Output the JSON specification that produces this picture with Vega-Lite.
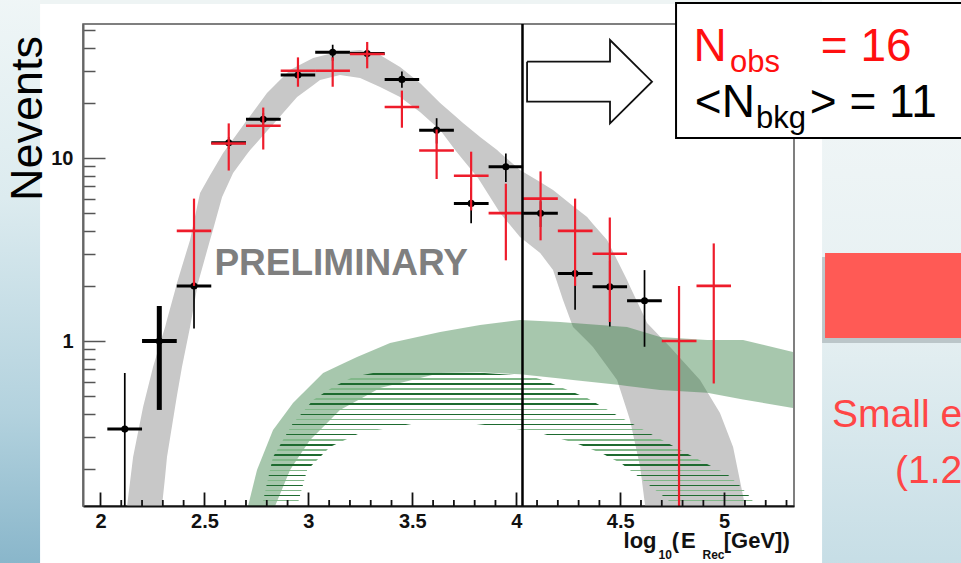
{
  "$schema": "https://vega.github.io/schema/vega-lite/v6.json",
  "width": 711,
  "height": 482,
  "autosize": {"type": "none"},
  "padding": {"left": 83, "top": 24, "right": 167, "bottom": 57},
  "background": "white",
  "config": {
    "view": {"stroke": "#555555", "strokeWidth": 1.5},
    "font": "Liberation Sans",
    "axis": {"labelOverlap": false}
  },
  "datasets": {
    "band": [
      {"x": 2.128, "hi": 0.1254, "lo": 0.05},
      {"x": 2.157, "hi": 0.2323, "lo": 0.05},
      {"x": 2.205, "hi": 0.4358, "lo": 0.05},
      {"x": 2.253, "hi": 0.721, "lo": 0.05},
      {"x": 2.296, "hi": 1.052, "lo": 0.1254},
      {"x": 2.311, "hi": 1.193, "lo": 0.1816},
      {"x": 2.32, "hi": 1.307, "lo": 0.2323},
      {"x": 2.359, "hi": 1.892, "lo": 0.4358},
      {"x": 2.368, "hi": 2.075, "lo": 0.503},
      {"x": 2.392, "hi": 2.554, "lo": 0.721},
      {"x": 2.431, "hi": 3.564, "lo": 1.193},
      {"x": 2.469, "hi": 5.72, "lo": 2.075},
      {"x": 2.479, "hi": 6.438, "lo": 2.272},
      {"x": 2.527, "hi": 8.045, "lo": 3.564},
      {"x": 2.542, "hi": 8.599, "lo": 4.08},
      {"x": 2.585, "hi": 10.43, "lo": 6.122},
      {"x": 2.59, "hi": 10.65, "lo": 6.294},
      {"x": 2.638, "hi": 12.66, "lo": 8.279},
      {"x": 2.705, "hi": 16.13, "lo": 10.51},
      {"x": 2.72, "hi": 16.97, "lo": 11.06},
      {"x": 2.801, "hi": 22.66, "lo": 14.03},
      {"x": 2.849, "hi": 25.7, "lo": 16.13},
      {"x": 2.912, "hi": 30.27, "lo": 19.47},
      {"x": 2.946, "hi": 31.69, "lo": 21.54},
      {"x": 3.023, "hi": 35.19, "lo": 25.0},
      {"x": 3.056, "hi": 35.97, "lo": 26.69},
      {"x": 3.138, "hi": 37.95, "lo": 28.15},
      {"x": 3.152, "hi": 38.07, "lo": 28.41},
      {"x": 3.249, "hi": 38.92, "lo": 27.36},
      {"x": 3.345, "hi": 36.55, "lo": 24.43},
      {"x": 3.441, "hi": 31.43, "lo": 21.54},
      {"x": 3.537, "hi": 25.7, "lo": 17.84},
      {"x": 3.634, "hi": 19.97, "lo": 14.22},
      {"x": 3.706, "hi": 16.96, "lo": 11.06},
      {"x": 3.744, "hi": 15.54, "lo": 9.789},
      {"x": 3.816, "hi": 13.3, "lo": 7.777},
      {"x": 3.826, "hi": 13.03, "lo": 7.469},
      {"x": 3.908, "hi": 11.06, "lo": 5.318},
      {"x": 3.922, "hi": 10.7, "lo": 5.007},
      {"x": 4.018, "hi": 8.599, "lo": 3.701},
      {"x": 4.115, "hi": 7.384, "lo": 3.027},
      {"x": 4.177, "hi": 6.687, "lo": 2.443},
      {"x": 4.225, "hi": 6.053, "lo": 1.675},
      {"x": 4.273, "hi": 5.473, "lo": 1.193},
      {"x": 4.341, "hi": 4.76, "lo": 1.0},
      {"x": 4.369, "hi": 4.364, "lo": 0.9273},
      {"x": 4.437, "hi": 3.564, "lo": 0.7278},
      {"x": 4.485, "hi": 2.771, "lo": 0.6121},
      {"x": 4.533, "hi": 2.154, "lo": 0.4155},
      {"x": 4.547, "hi": 1.987, "lo": 0.37},
      {"x": 4.596, "hi": 1.515, "lo": 0.2049},
      {"x": 4.62, "hi": 1.324, "lo": 0.1254},
      {"x": 4.629, "hi": 1.254, "lo": 0.05},
      {"x": 4.74, "hi": 0.9273, "lo": 0.05},
      {"x": 4.884, "hi": 0.6121, "lo": 0.05},
      {"x": 4.98, "hi": 0.4042, "lo": 0.05},
      {"x": 5.043, "hi": 0.2635, "lo": 0.05},
      {"x": 5.101, "hi": 0.1254, "lo": 0.05}
    ],
    "dots": [
      {"x": 2.71, "hi": 0.1254, "lo": 0.1254},
      {"x": 2.753, "hi": 0.1973, "lo": 0.1254},
      {"x": 2.83, "hi": 0.3264, "lo": 0.1254},
      {"x": 2.84, "hi": 0.3376, "lo": 0.1254},
      {"x": 2.912, "hi": 0.4356, "lo": 0.1973},
      {"x": 2.926, "hi": 0.4584, "lo": 0.2088},
      {"x": 3.008, "hi": 0.5676, "lo": 0.2877},
      {"x": 3.071, "hi": 0.6686, "lo": 0.3389},
      {"x": 3.152, "hi": 0.7394, "lo": 0.4198},
      {"x": 3.234, "hi": 0.8177, "lo": 0.4721},
      {"x": 3.345, "hi": 0.925, "lo": 0.5535},
      {"x": 3.393, "hi": 0.9752, "lo": 0.5713},
      {"x": 3.634, "hi": 1.12, "lo": 0.6686},
      {"x": 3.826, "hi": 1.223, "lo": 0.6745},
      {"x": 4.018, "hi": 1.302, "lo": 0.6585},
      {"x": 4.211, "hi": 1.27, "lo": 0.623},
      {"x": 4.273, "hi": 1.254, "lo": 0.6121},
      {"x": 4.499, "hi": 1.2, "lo": 0.575},
      {"x": 4.533, "hi": 1.193, "lo": 0.5684},
      {"x": 4.692, "hi": 1.052, "lo": 0.5399},
      {"x": 4.918, "hi": 1.013, "lo": 0.5212},
      {"x": 5.091, "hi": 1.013, "lo": 0.4784},
      {"x": 5.331, "hi": 0.8707, "lo": 0.4304}
    ],
    "hatch": [
      {"x": 2.777, "hi": 0.1254, "lo": 0.1254},
      {"x": 2.801, "hi": 0.1675, "lo": 0.1254},
      {"x": 2.83, "hi": 0.2323, "lo": 0.1254},
      {"x": 2.926, "hi": 0.3564, "lo": 0.1254},
      {"x": 2.946, "hi": 0.3776, "lo": 0.1254},
      {"x": 2.994, "hi": 0.4364, "lo": 0.1973},
      {"x": 3.023, "hi": 0.4762, "lo": 0.2128},
      {"x": 3.104, "hi": 0.5467, "lo": 0.2635},
      {"x": 3.119, "hi": 0.5606, "lo": 0.2682},
      {"x": 3.215, "hi": 0.6357, "lo": 0.3014},
      {"x": 3.249, "hi": 0.647, "lo": 0.3143},
      {"x": 3.311, "hi": 0.6686, "lo": 0.3235},
      {"x": 3.523, "hi": 0.6762, "lo": 0.3564},
      {"x": 3.537, "hi": 0.677, "lo": 0.3569},
      {"x": 3.73, "hi": 0.677, "lo": 0.3609},
      {"x": 3.778, "hi": 0.677, "lo": 0.3556},
      {"x": 3.97, "hi": 0.6545, "lo": 0.3346},
      {"x": 4.066, "hi": 0.6438, "lo": 0.321},
      {"x": 4.115, "hi": 0.6177, "lo": 0.3143},
      {"x": 4.153, "hi": 0.597, "lo": 0.3052},
      {"x": 4.283, "hi": 0.5198, "lo": 0.2767},
      {"x": 4.297, "hi": 0.5117, "lo": 0.2736},
      {"x": 4.341, "hi": 0.4882, "lo": 0.2615},
      {"x": 4.418, "hi": 0.4347, "lo": 0.2413},
      {"x": 4.499, "hi": 0.3844, "lo": 0.2158},
      {"x": 4.509, "hi": 0.3791, "lo": 0.2128},
      {"x": 4.596, "hi": 0.3346, "lo": 0.1784},
      {"x": 4.692, "hi": 0.2914, "lo": 0.1465},
      {"x": 4.706, "hi": 0.2855, "lo": 0.1422},
      {"x": 4.764, "hi": 0.2635, "lo": 0.1254},
      {"x": 4.826, "hi": 0.2413, "lo": 0.1254},
      {"x": 4.918, "hi": 0.2128, "lo": 0.1254},
      {"x": 5.014, "hi": 0.1876, "lo": 0.1254},
      {"x": 5.077, "hi": 0.1613, "lo": 0.1254},
      {"x": 5.125, "hi": 0.1405, "lo": 0.1254},
      {"x": 5.153, "hi": 0.1254, "lo": 0.1254}
    ],
    "black": [
      {"bin": 1, "x": 2.117, "xlo": 2.033, "xhi": 2.2, "y": 0.33, "ylo": 0.001, "yhi": 0.668},
      {"bin": 2, "x": 2.283, "xlo": 2.2, "xhi": 2.367, "y": 1.0, "ylo": 0.42, "yhi": 1.553},
      {"bin": 3, "x": 2.45, "xlo": 2.367, "xhi": 2.533, "y": 2.0, "ylo": 1.17, "yhi": 2.83},
      {"bin": 4, "x": 2.617, "xlo": 2.533, "xhi": 2.7, "y": 12.1, "ylo": 11.2, "yhi": 13.0},
      {"bin": 5, "x": 2.783, "xlo": 2.7, "xhi": 2.867, "y": 16.3, "ylo": 15.0, "yhi": 17.6},
      {"bin": 6, "x": 2.95, "xlo": 2.867, "xhi": 3.033, "y": 28.4, "ylo": 26.8, "yhi": 30.1},
      {"bin": 7, "x": 3.117, "xlo": 3.033, "xhi": 3.2, "y": 37.8, "ylo": 34.0, "yhi": 41.6},
      {"bin": 8, "x": 3.283, "xlo": 3.2, "xhi": 3.367, "y": 37.2, "ylo": 34.7, "yhi": 39.7},
      {"bin": 9, "x": 3.45, "xlo": 3.367, "xhi": 3.533, "y": 26.9, "ylo": 24.2, "yhi": 29.7},
      {"bin": 10, "x": 3.617, "xlo": 3.533, "xhi": 3.7, "y": 14.2, "ylo": 12.0, "yhi": 16.5},
      {"bin": 11, "x": 3.783, "xlo": 3.7, "xhi": 3.867, "y": 5.65, "ylo": 4.4, "yhi": 6.9},
      {"bin": 12, "x": 3.95, "xlo": 3.867, "xhi": 4.033, "y": 8.96, "ylo": 7.4, "yhi": 10.6},
      {"bin": 13, "x": 4.117, "xlo": 4.033, "xhi": 4.2, "y": 4.99, "ylo": 4.2, "yhi": 5.8},
      {"bin": 14, "x": 4.283, "xlo": 4.2, "xhi": 4.367, "y": 2.34, "ylo": 1.48, "yhi": 3.2},
      {"bin": 15, "x": 4.45, "xlo": 4.367, "xhi": 4.533, "y": 1.98, "ylo": 1.2, "yhi": 2.76},
      {"bin": 16, "x": 4.617, "xlo": 4.533, "xhi": 4.7, "y": 1.66, "ylo": 0.93, "yhi": 2.44}
    ],
    "red": [
      {"bin": 3, "x": 2.45, "xlo": 2.367, "xhi": 2.533, "n": 4, "lo": 2.0, "hi": 6.0},
      {"bin": 4, "x": 2.617, "xlo": 2.533, "xhi": 2.7, "n": 12, "lo": 8.54, "hi": 15.46},
      {"bin": 5, "x": 2.783, "xlo": 2.7, "xhi": 2.867, "n": 15, "lo": 11.13, "hi": 18.87},
      {"bin": 6, "x": 2.95, "xlo": 2.867, "xhi": 3.033, "n": 30, "lo": 24.52, "hi": 35.48},
      {"bin": 7, "x": 3.117, "xlo": 3.033, "xhi": 3.2, "n": 30, "lo": 24.52, "hi": 35.48},
      {"bin": 8, "x": 3.283, "xlo": 3.2, "xhi": 3.367, "n": 37, "lo": 30.92, "hi": 43.08},
      {"bin": 9, "x": 3.45, "xlo": 3.367, "xhi": 3.533, "n": 19, "lo": 14.64, "hi": 23.36},
      {"bin": 10, "x": 3.617, "xlo": 3.533, "xhi": 3.7, "n": 11, "lo": 7.68, "hi": 14.32},
      {"bin": 11, "x": 3.783, "xlo": 3.7, "xhi": 3.867, "n": 8, "lo": 5.17, "hi": 10.83},
      {"bin": 12, "x": 3.95, "xlo": 3.867, "xhi": 4.033, "n": 5, "lo": 2.76, "hi": 7.24},
      {"bin": 13, "x": 4.117, "xlo": 4.033, "xhi": 4.2, "n": 6, "lo": 3.55, "hi": 8.45},
      {"bin": 14, "x": 4.283, "xlo": 4.2, "xhi": 4.367, "n": 4, "lo": 2.0, "hi": 6.0},
      {"bin": 15, "x": 4.45, "xlo": 4.367, "xhi": 4.533, "n": 3, "lo": 1.27, "hi": 4.73},
      {"bin": 17, "x": 4.783, "xlo": 4.7, "xhi": 4.867, "n": 1, "lo": 0.001, "hi": 2.0},
      {"bin": 18, "x": 4.95, "xlo": 4.867, "xhi": 5.033, "n": 2, "lo": 0.586, "hi": 3.414}
    ],
    "arrow": [
      {"i": 0, "x": 4.052, "y": 33.6},
      {"i": 1, "x": 4.451, "y": 33.6},
      {"i": 2, "x": 4.451, "y": 44.15},
      {"i": 3, "x": 4.653, "y": 26.12},
      {"i": 4, "x": 4.451, "y": 15.47},
      {"i": 5, "x": 4.451, "y": 20.31},
      {"i": 6, "x": 4.052, "y": 20.31},
      {"i": 7, "x": 4.052, "y": 33.6}
    ],
    "minorTicks": [
      {"v": 2.1}, {"v": 2.2}, {"v": 2.3}, {"v": 2.4}, {"v": 2.6}, {"v": 2.7}, {"v": 2.8}, {"v": 2.9},
      {"v": 3.1}, {"v": 3.2}, {"v": 3.3}, {"v": 3.4}, {"v": 3.6}, {"v": 3.7}, {"v": 3.8}, {"v": 3.9},
      {"v": 4.1}, {"v": 4.2}, {"v": 4.3}, {"v": 4.4}, {"v": 4.6}, {"v": 4.7}, {"v": 4.8}, {"v": 4.9},
      {"v": 5.1}, {"v": 5.2}, {"v": 5.3}
    ]
  },
  "layer": [
    {
      "data": {"name": "band"},
      "mark": {"type": "area", "color": "#c8c8c8", "clip": true},
      "encoding": {
        "x": {
          "field": "x", "type": "quantitative", "title": null,
          "scale": {"domain": [1.916, 5.336], "nice": false, "zero": false},
          "axis": {
            "values": [2, 2.5, 3, 3.5, 4, 4.5, 5],
            "format": "~g",
            "tickSize": -14,
            "tickColor": "#111111", "tickWidth": 1.8,
            "domainColor": "#111111", "domainWidth": 2,
            "labelFont": "Liberation Sans", "labelFontWeight": "bold", "labelFontSize": 20, "labelColor": "#111111",
            "labelPadding": 35, "labelBaseline": "alphabetic",
            "labelFlush": false, "labelOverlap": false, "labelBound": false,
            "grid": false, "zindex": 1
          }
        },
        "y": {
          "field": "hi", "type": "quantitative", "title": "Nevents",
          "scale": {"type": "log", "domain": [0.1254, 54], "nice": false},
          "axis": {
            "values": [0.2, 0.3, 0.4, 0.5, 0.6, 0.7, 0.8, 0.9, 1, 2, 3, 4, 5, 6, 7, 8, 9, 10, 20, 30, 40, 50],
            "tickSize": {"condition": {"test": "datum.value == 1 || datum.value == 10", "value": -22}, "value": -12},
            "tickColor": "#555555", "tickWidth": 1.5,
            "domainColor": "#666666", "domainWidth": 2,
            "labelExpr": "datum.value == 1 ? '1' : datum.value == 10 ? '10' : ''",
            "labelFont": "Liberation Sans", "labelFontWeight": "bold", "labelFontSize": 20, "labelColor": "#111111",
            "labelPadding": 32, "labelOverlap": false, "labelBound": false,
            "grid": false, "zindex": 1,
            "titleFont": "Liberation Sans", "titleFontSize": 45, "titleFontWeight": "normal", "titleColor": "#000000",
            "titleAngle": -90, "titleX": -42, "titleY": 94, "titleAlign": "center", "titleBaseline": "alphabetic"
          }
        },
        "y2": {"field": "lo"}
      }
    },
    {
      "data": {"values": [{}]},
      "mark": {"type": "rect", "clip": false, "fill": {"gradient": "linear", "x1": 0, "y1": 0, "x2": 0, "y2": 1, "stops": [
        {"offset": 0, "color": "#f1f7f7"}, {"offset": 0.35, "color": "#dcebef"}, {"offset": 0.7, "color": "#b3d2de"}, {"offset": 1, "color": "#80b0c6"}]}},
      "encoding": {"x": {"datum": 1.35}, "x2": {"datum": 1.7095}, "y": {"datum": 0.04}, "y2": {"datum": 90}}
    },
    {
      "data": {"values": [{}]},
      "mark": {"type": "rect", "clip": false, "fill": {"gradient": "linear", "x1": 0, "y1": 0, "x2": 0, "y2": 1, "stops": [
        {"offset": 0, "color": "#f6f9f9"}, {"offset": 0.55, "color": "#e6f0f2"}, {"offset": 1, "color": "#c2dbe4"}]}},
      "encoding": {"x": {"datum": 5.471}, "x2": {"datum": 6.4}, "y": {"datum": 0.04}, "y2": {"datum": 90}}
    },
    {
      "data": {"values": [{}]},
      "mark": {"type": "rect", "clip": false, "fill": "#eef4f4"},
      "encoding": {"x": {"datum": 1.7095}, "x2": {"datum": 5.471}, "y": {"datum": 69.4}, "y2": {"datum": 90}}
    },
    {
      "data": {"name": "dots"},
      "mark": {"type": "area", "color": "#2e7a3b", "fillOpacity": 0.42, "clip": true},
      "encoding": {"x": {"field": "x", "type": "quantitative"}, "y": {"field": "hi", "type": "quantitative"}, "y2": {"field": "lo"}}
    },
    {
      "data": {"name": "hatch"},
      "mark": {"type": "area", "clip": true, "fill": {"gradient": "linear", "x1": 0, "y1": 0, "x2": 0, "y2": 1, "stops": [
        {"offset": 0, "color": "rgba(255,255,255,0)"},
        {"offset": 0.0075, "color": "rgba(255,255,255,0)"}, {"offset": 0.0075, "color": "#1e6b30"}, {"offset": 0.0187, "color": "#1e6b30"}, {"offset": 0.0187, "color": "rgba(255,255,255,0)"},
        {"offset": 0.0454, "color": "rgba(255,255,255,0)"}, {"offset": 0.0454, "color": "#82b88a"}, {"offset": 0.0566, "color": "#82b88a"}, {"offset": 0.0566, "color": "rgba(255,255,255,0)"},
        {"offset": 0.0833, "color": "rgba(255,255,255,0)"}, {"offset": 0.0833, "color": "#1e6b30"}, {"offset": 0.0945, "color": "#1e6b30"}, {"offset": 0.0945, "color": "rgba(255,255,255,0)"},
        {"offset": 0.1212, "color": "rgba(255,255,255,0)"}, {"offset": 0.1212, "color": "#82b88a"}, {"offset": 0.1324, "color": "#82b88a"}, {"offset": 0.1324, "color": "rgba(255,255,255,0)"},
        {"offset": 0.1591, "color": "rgba(255,255,255,0)"}, {"offset": 0.1591, "color": "#1e6b30"}, {"offset": 0.1703, "color": "#1e6b30"}, {"offset": 0.1703, "color": "rgba(255,255,255,0)"},
        {"offset": 0.197, "color": "rgba(255,255,255,0)"}, {"offset": 0.197, "color": "#82b88a"}, {"offset": 0.2082, "color": "#82b88a"}, {"offset": 0.2082, "color": "rgba(255,255,255,0)"},
        {"offset": 0.2349, "color": "rgba(255,255,255,0)"}, {"offset": 0.2349, "color": "#1e6b30"}, {"offset": 0.2461, "color": "#1e6b30"}, {"offset": 0.2461, "color": "rgba(255,255,255,0)"},
        {"offset": 0.2728, "color": "rgba(255,255,255,0)"}, {"offset": 0.2728, "color": "#82b88a"}, {"offset": 0.284, "color": "#82b88a"}, {"offset": 0.284, "color": "rgba(255,255,255,0)"},
        {"offset": 0.3107, "color": "rgba(255,255,255,0)"}, {"offset": 0.3107, "color": "#1e6b30"}, {"offset": 0.3219, "color": "#1e6b30"}, {"offset": 0.3219, "color": "rgba(255,255,255,0)"},
        {"offset": 0.3487, "color": "rgba(255,255,255,0)"}, {"offset": 0.3487, "color": "#82b88a"}, {"offset": 0.3599, "color": "#82b88a"}, {"offset": 0.3599, "color": "rgba(255,255,255,0)"},
        {"offset": 0.3866, "color": "rgba(255,255,255,0)"}, {"offset": 0.3866, "color": "#1e6b30"}, {"offset": 0.3978, "color": "#1e6b30"}, {"offset": 0.3978, "color": "rgba(255,255,255,0)"},
        {"offset": 0.4245, "color": "rgba(255,255,255,0)"}, {"offset": 0.4245, "color": "#82b88a"}, {"offset": 0.4357, "color": "#82b88a"}, {"offset": 0.4357, "color": "rgba(255,255,255,0)"},
        {"offset": 0.4624, "color": "rgba(255,255,255,0)"}, {"offset": 0.4624, "color": "#1e6b30"}, {"offset": 0.4736, "color": "#1e6b30"}, {"offset": 0.4736, "color": "rgba(255,255,255,0)"},
        {"offset": 0.5003, "color": "rgba(255,255,255,0)"}, {"offset": 0.5003, "color": "#82b88a"}, {"offset": 0.5115, "color": "#82b88a"}, {"offset": 0.5115, "color": "rgba(255,255,255,0)"},
        {"offset": 0.5382, "color": "rgba(255,255,255,0)"}, {"offset": 0.5382, "color": "#1e6b30"}, {"offset": 0.5494, "color": "#1e6b30"}, {"offset": 0.5494, "color": "rgba(255,255,255,0)"},
        {"offset": 0.5761, "color": "rgba(255,255,255,0)"}, {"offset": 0.5761, "color": "#82b88a"}, {"offset": 0.5873, "color": "#82b88a"}, {"offset": 0.5873, "color": "rgba(255,255,255,0)"},
        {"offset": 0.614, "color": "rgba(255,255,255,0)"}, {"offset": 0.614, "color": "#1e6b30"}, {"offset": 0.6252, "color": "#1e6b30"}, {"offset": 0.6252, "color": "rgba(255,255,255,0)"},
        {"offset": 0.6519, "color": "rgba(255,255,255,0)"}, {"offset": 0.6519, "color": "#82b88a"}, {"offset": 0.6631, "color": "#82b88a"}, {"offset": 0.6631, "color": "rgba(255,255,255,0)"},
        {"offset": 0.6899, "color": "rgba(255,255,255,0)"}, {"offset": 0.6899, "color": "#1e6b30"}, {"offset": 0.7011, "color": "#1e6b30"}, {"offset": 0.7011, "color": "rgba(255,255,255,0)"},
        {"offset": 0.7278, "color": "rgba(255,255,255,0)"}, {"offset": 0.7278, "color": "#82b88a"}, {"offset": 0.739, "color": "#82b88a"}, {"offset": 0.739, "color": "rgba(255,255,255,0)"},
        {"offset": 0.7657, "color": "rgba(255,255,255,0)"}, {"offset": 0.7657, "color": "#1e6b30"}, {"offset": 0.7769, "color": "#1e6b30"}, {"offset": 0.7769, "color": "rgba(255,255,255,0)"},
        {"offset": 0.8036, "color": "rgba(255,255,255,0)"}, {"offset": 0.8036, "color": "#82b88a"}, {"offset": 0.8148, "color": "#82b88a"}, {"offset": 0.8148, "color": "rgba(255,255,255,0)"},
        {"offset": 0.8415, "color": "rgba(255,255,255,0)"}, {"offset": 0.8415, "color": "#1e6b30"}, {"offset": 0.8527, "color": "#1e6b30"}, {"offset": 0.8527, "color": "rgba(255,255,255,0)"},
        {"offset": 0.8794, "color": "rgba(255,255,255,0)"}, {"offset": 0.8794, "color": "#82b88a"}, {"offset": 0.8906, "color": "#82b88a"}, {"offset": 0.8906, "color": "rgba(255,255,255,0)"},
        {"offset": 0.9173, "color": "rgba(255,255,255,0)"}, {"offset": 0.9173, "color": "#1e6b30"}, {"offset": 0.9285, "color": "#1e6b30"}, {"offset": 0.9285, "color": "rgba(255,255,255,0)"},
        {"offset": 0.9552, "color": "rgba(255,255,255,0)"}, {"offset": 0.9552, "color": "#82b88a"}, {"offset": 0.9664, "color": "#82b88a"}, {"offset": 0.9664, "color": "rgba(255,255,255,0)"},
        {"offset": 1, "color": "rgba(255,255,255,0)"}]}},
      "encoding": {"x": {"field": "x", "type": "quantitative"}, "y": {"field": "hi", "type": "quantitative"}, "y2": {"field": "lo"}}
    },
    {
      "data": {"name": "black"},
      "transform": [{"filter": "datum.bin != 2"}],
      "mark": {"type": "rule", "color": "#000000", "strokeWidth": 1.7, "clip": true},
      "encoding": {"x": {"field": "x", "type": "quantitative"}, "y": {"field": "ylo", "type": "quantitative"}, "y2": {"field": "yhi"}}
    },
    {
      "data": {"name": "black"},
      "transform": [{"filter": "datum.bin != 2"}],
      "mark": {"type": "rule", "color": "#000000", "strokeWidth": 3, "clip": true},
      "encoding": {"x": {"field": "xlo", "type": "quantitative"}, "x2": {"field": "xhi"}, "y": {"field": "y", "type": "quantitative"}}
    },
    {
      "data": {"name": "black"},
      "transform": [{"filter": "datum.bin == 2"}],
      "mark": {"type": "rule", "color": "#000000", "strokeWidth": 5, "clip": true},
      "encoding": {"x": {"field": "x", "type": "quantitative"}, "y": {"field": "ylo", "type": "quantitative"}, "y2": {"field": "yhi"}}
    },
    {
      "data": {"name": "black"},
      "transform": [{"filter": "datum.bin == 2"}],
      "mark": {"type": "rule", "color": "#000000", "strokeWidth": 4, "clip": true},
      "encoding": {"x": {"field": "xlo", "type": "quantitative"}, "x2": {"field": "xhi"}, "y": {"field": "y", "type": "quantitative"}}
    },
    {
      "data": {"name": "black"},
      "mark": {"type": "point", "shape": "circle", "filled": true, "color": "#000000", "size": 50, "opacity": 1, "clip": true},
      "encoding": {"x": {"field": "x", "type": "quantitative"}, "y": {"field": "y", "type": "quantitative"}}
    },
    {
      "data": {"name": "red"},
      "mark": {"type": "rule", "color": "#ee1c2b", "strokeWidth": 2.2, "clip": true},
      "encoding": {"x": {"field": "x", "type": "quantitative"}, "y": {"field": "lo", "type": "quantitative"}, "y2": {"field": "hi"}}
    },
    {
      "data": {"name": "red"},
      "mark": {"type": "rule", "color": "#ee1c2b", "strokeWidth": 2.6, "clip": true},
      "encoding": {"x": {"field": "xlo", "type": "quantitative"}, "x2": {"field": "xhi"}, "y": {"field": "n", "type": "quantitative"}}
    },
    {
      "data": {"values": [{"cut": 4.03}]},
      "mark": {"type": "rule", "color": "#000000", "strokeWidth": 2.5},
      "encoding": {"x": {"field": "cut", "type": "quantitative"}}
    },
    {
      "data": {"name": "minorTicks"},
      "mark": {"type": "rule", "color": "#111111", "strokeWidth": 1.8},
      "encoding": {"x": {"field": "v", "type": "quantitative"}, "y": {"datum": 0.1254}, "y2": {"datum": 0.1352}}
    },
    {
      "data": {"values": [{}]},
      "mark": {"type": "text", "text": "PRELIMINARY", "font": "Liberation Sans", "fontWeight": "bold", "fontSize": 37, "color": "#7f7f7f", "align": "left", "baseline": "alphabetic"},
      "encoding": {"x": {"datum": 2.548}, "y": {"datum": 2.295}}
    },
    {
      "data": {"name": "arrow"},
      "mark": {"type": "line", "color": "#111111", "strokeWidth": 1.8, "strokeJoin": "miter", "clip": false},
      "encoding": {"x": {"field": "x", "type": "quantitative"}, "y": {"field": "y", "type": "quantitative"}, "order": {"field": "i", "type": "quantitative"}}
    },
    {
      "data": {"values": [{}]},
      "mark": {"type": "rect", "clip": false, "fill": "#ffffff", "stroke": "#000000", "strokeWidth": 2},
      "encoding": {"x": {"datum": 4.7686}, "x2": {"datum": 6.4}, "y": {"datum": 12.86}, "y2": {"datum": 70.3}}
    },
    {
      "data": {"values": [{}]},
      "mark": {"type": "text", "text": "N", "fontSize": 46, "color": "#ff1010", "align": "left", "baseline": "alphabetic", "font": "Liberation Sans"},
      "encoding": {"x": {"datum": 4.853}, "y": {"datum": 33.9}}
    },
    {
      "data": {"values": [{}]},
      "mark": {"type": "text", "text": "obs", "fontSize": 31, "color": "#ff1010", "align": "left", "baseline": "alphabetic", "font": "Liberation Sans"},
      "encoding": {"x": {"datum": 5.028}, "y": {"datum": 29.5}}
    },
    {
      "data": {"values": [{}]},
      "mark": {"type": "text", "text": "= 16", "fontSize": 46, "color": "#ff1010", "align": "left", "baseline": "alphabetic", "font": "Liberation Sans"},
      "encoding": {"x": {"datum": 5.465}, "y": {"datum": 33.9}}
    },
    {
      "data": {"values": [{}]},
      "mark": {"type": "text", "text": "<N", "fontSize": 46, "color": "#000000", "align": "left", "baseline": "alphabetic", "font": "Liberation Sans"},
      "encoding": {"x": {"datum": 4.859}, "y": {"datum": 16.75}}
    },
    {
      "data": {"values": [{}]},
      "mark": {"type": "text", "text": "bkg", "fontSize": 31, "color": "#000000", "align": "left", "baseline": "alphabetic", "font": "Liberation Sans"},
      "encoding": {"x": {"datum": 5.153}, "y": {"datum": 14.53}}
    },
    {
      "data": {"values": [{}]},
      "mark": {"type": "text", "text": "> = 11", "fontSize": 46, "color": "#000000", "align": "left", "baseline": "alphabetic", "font": "Liberation Sans"},
      "encoding": {"x": {"datum": 5.412}, "y": {"datum": 16.75}}
    },
    {
      "data": {"values": [{}]},
      "mark": {"type": "rect", "clip": false, "fill": "#8a9599", "opacity": 0.45},
      "encoding": {"x": {"datum": 5.471}, "x2": {"datum": 6.4}, "y": {"datum": 0.975}, "y2": {"datum": 2.876}}
    },
    {
      "data": {"values": [{}]},
      "mark": {"type": "rect", "clip": false, "fill": "#ff5a55"},
      "encoding": {"x": {"datum": 5.4853}, "x2": {"datum": 6.4}, "y": {"datum": 1.038}, "y2": {"datum": 3.027}}
    },
    {
      "data": {"values": [{}]},
      "mark": {"type": "text", "text": "Small e", "fontSize": 39, "color": "#ff4646", "align": "left", "baseline": "alphabetic", "font": "Liberation Sans"},
      "encoding": {"x": {"datum": 5.519}, "y": {"datum": 0.3403}}
    },
    {
      "data": {"values": [{}]},
      "mark": {"type": "text", "text": "(1.2", "fontSize": 39, "color": "#ff4646", "align": "left", "baseline": "alphabetic", "font": "Liberation Sans"},
      "encoding": {"x": {"datum": 5.822}, "y": {"datum": 0.1675}}
    },
    {
      "data": {"values": [{}]},
      "mark": {"type": "text", "text": "log", "fontSize": 22, "fontWeight": "bold", "color": "#111111", "align": "left", "baseline": "alphabetic", "font": "Liberation Sans"},
      "encoding": {"x": {"datum": 4.516}, "y": {"datum": 0.0739}}
    },
    {
      "data": {"values": [{}]},
      "mark": {"type": "text", "text": "10", "fontSize": 12, "fontWeight": "bold", "color": "#111111", "align": "left", "baseline": "alphabetic", "font": "Liberation Sans"},
      "encoding": {"x": {"datum": 4.6845}, "y": {"datum": 0.0646}}
    },
    {
      "data": {"values": [{}]},
      "mark": {"type": "text", "text": "(", "fontSize": 22, "fontWeight": "bold", "color": "#111111", "align": "left", "baseline": "alphabetic", "font": "Liberation Sans"},
      "encoding": {"x": {"datum": 4.748}, "y": {"datum": 0.0739}}
    },
    {
      "data": {"values": [{}]},
      "mark": {"type": "text", "text": "E", "fontSize": 22, "fontWeight": "bold", "color": "#111111", "align": "left", "baseline": "alphabetic", "font": "Liberation Sans"},
      "encoding": {"x": {"datum": 4.792}, "y": {"datum": 0.0739}}
    },
    {
      "data": {"values": [{}]},
      "mark": {"type": "text", "text": "Rec", "fontSize": 12, "fontWeight": "bold", "color": "#111111", "align": "left", "baseline": "alphabetic", "font": "Liberation Sans"},
      "encoding": {"x": {"datum": 4.896}, "y": {"datum": 0.0646}}
    },
    {
      "data": {"values": [{}]},
      "mark": {"type": "text", "text": "[GeV])", "fontSize": 22, "fontWeight": "bold", "color": "#111111", "align": "left", "baseline": "alphabetic", "font": "Liberation Sans"},
      "encoding": {"x": {"datum": 4.998}, "y": {"datum": 0.0739}}
    }
  ]
}
